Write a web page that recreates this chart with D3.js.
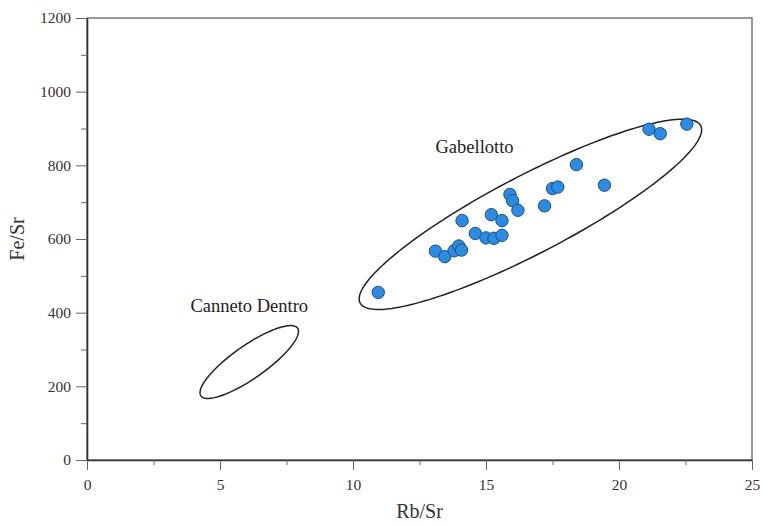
<!DOCTYPE html>
<html><head><meta charset="utf-8">
<script src="https://cdn.jsdelivr.net/npm/d3@7"></script>
<style>body{margin:0;background:#fff;}svg{display:block;}</style>
</head><body>
<svg id="c" width="762" height="526"></svg>
<script>
const rbSr = [10.95,13.1,13.45,13.8,13.98,14.08,14.1,14.6,15.0,15.3,15.6,15.2,15.6,15.9,16.0,16.2,17.2,17.5,17.7,18.4,19.45,21.13,21.55,22.55];
const feSr = [455,567,552,568,581,570,650,615,603,602,610,666,650,721,704,678,690,737,741,802,746,898,886,912];
const xTicks = [0,5,10,15,20,25];
const yTicks = [0,200,400,600,800,1000,1200];
const groupLabels = ["Gabellotto","Canneto Dentro"];

const svg = d3.select("#c");
const m = {l:87, r:10, t:18, b:66};
const W = 762, H = 526;
const x = d3.scaleLinear().domain([0,25]).range([m.l, W-m.r]);
const y = d3.scaleLinear().domain([0,1200]).range([H-m.b, m.t]);
const axCol = "#333";
const font = "'Liberation Serif','Times New Roman',serif";

// frame
svg.append("rect").attr("x",x(0)).attr("y",y(1200)).attr("width",x(25)-x(0)).attr("height",y(0)-y(1200))
  .attr("fill","none").attr("stroke",axCol).attr("stroke-width",1);

const xa = svg.append("g").attr("transform",`translate(0,${y(0)})`)
  .call(d3.axisBottom(x).tickValues(d3.range(0,25.1,2.5)).tickSizeOuter(0).tickFormat(d=>xTicks.includes(d)?d:""));
const ya = svg.append("g").attr("transform",`translate(${x(0)},0)`)
  .call(d3.axisLeft(y).tickValues(d3.range(0,1201,100)).tickSizeOuter(0).tickFormat(d=>yTicks.includes(d)?d:""));
xa.selectAll(".tick line").attr("y2",d=>xTicks.includes(d)?10:5);
ya.selectAll(".tick line").attr("x2",d=>yTicks.includes(d)?-11:-6);
xa.selectAll(".tick text").attr("y",19).attr("dy","0.71em");
ya.selectAll(".tick text").attr("x",-16);
[xa,ya].forEach(a=>{
  a.selectAll("path").attr("stroke",axCol).attr("stroke-width",1.6);
  a.selectAll("line").attr("stroke","#666");
  a.selectAll("text").attr("fill","#333").style("font-family",font).style("font-size","15.5px");
});

svg.append("text").attr("x",(x(0)+x(25))/2).attr("y",H-8).attr("text-anchor","middle")
  .style("font-family",font).style("font-size","20px").attr("fill","#333").text("Rb/Sr");
svg.append("text").attr("transform",`translate(24,${(y(0)+y(1200))/2}) rotate(-90)`).attr("text-anchor","middle")
  .style("font-family",font).style("font-size","20px").attr("fill","#333").text("Fe/Sr");

// group ellipses (centre in data units, semi-axes in pixels, rotation in degrees)
function ellipse(cx, cy, a, b, deg){
  const X = x(cx), Y = y(cy), t = -deg*Math.PI/180;
  const pts = d3.range(0, 360, 2).map(k=>{
    const u = k*Math.PI/180;
    const ex = a*Math.cos(u), ey = b*Math.sin(u);
    return [X + ex*Math.cos(t) - ey*Math.sin(t), Y + ex*Math.sin(t) + ey*Math.cos(t)];
  });
  svg.append("path").attr("d", d3.line()(pts)+"Z").attr("fill","none").attr("stroke","#222").attr("stroke-width",1.5);
}
ellipse(16.67, 667, 192, 39, 27.5);
ellipse(6.1, 266, 59, 16.5, 35);

svg.append("text").attr("x",x(14.57)).attr("y",y(833)).attr("text-anchor","middle")
  .style("font-family",font).style("font-size","18.5px").attr("fill","#222").text(groupLabels[0]);
svg.append("text").attr("x",x(6.1)).attr("y",y(402)).attr("text-anchor","middle")
  .style("font-family",font).style("font-size","18.5px").attr("fill","#222").text(groupLabels[1]);

svg.append("g").selectAll("circle").data(rbSr).join("circle")
  .attr("cx",d=>x(d)).attr("cy",(d,i)=>y(feSr[i])).attr("r",6.2)
  .attr("fill","#2b8ce6").attr("stroke","#1f4f7a").attr("stroke-width",1);
</script>
</body></html>
